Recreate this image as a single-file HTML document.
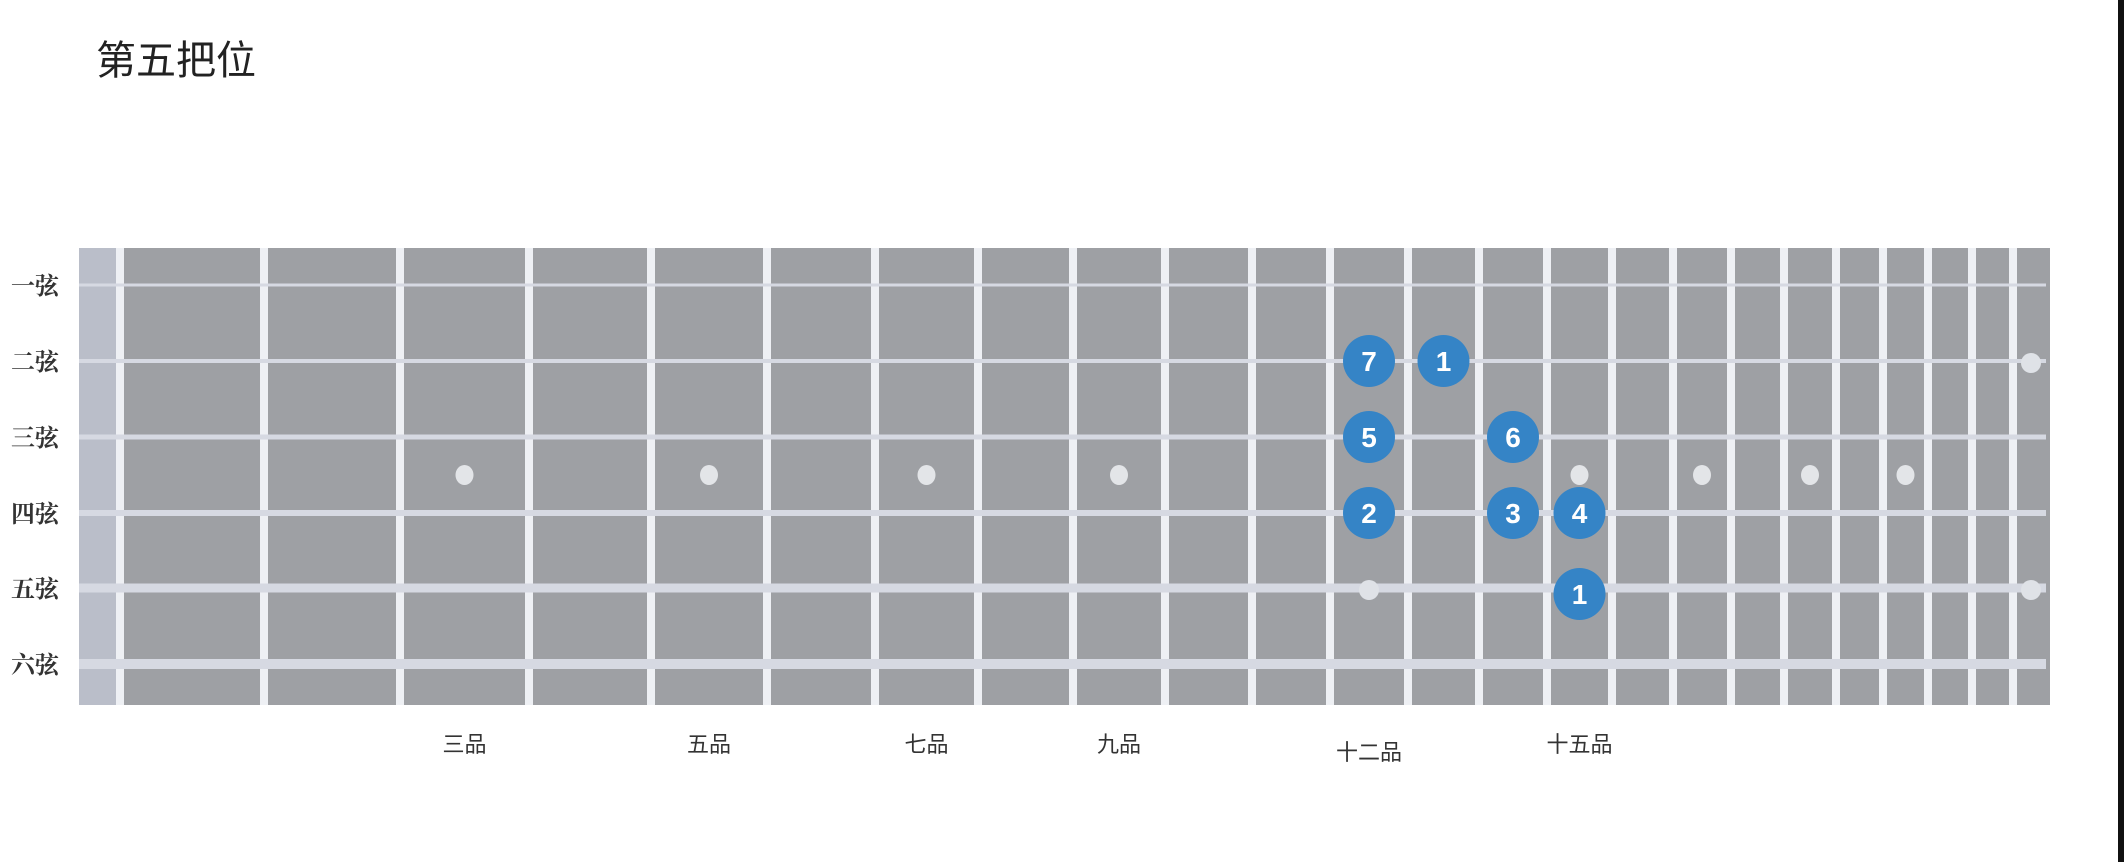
<!DOCTYPE html>
<html><head><meta charset="utf-8"><style>
html,body{margin:0;padding:0;background:#fff;}
body{width:2124px;height:862px;overflow:hidden;position:relative;font-family:"Liberation Sans","Noto Sans CJK SC",sans-serif;}
#title{position:absolute;left:96px;top:36px;font-size:40px;color:#222;line-height:50px;}
#edge{position:absolute;left:2118px;top:0;width:6px;height:862px;background:#111;}
</style></head><body>
<div id="title">第五把位</div>
<div id="edge"></div>
<svg id="svg" width="2124" height="862" style="position:absolute;left:0;top:0"></svg>
<script>
const fretLineX=[120,264,400,529,651,767,875,978,1073,1165,1252,1330,1408,1479,1547,1612,1673,1731,1784,1836,1883,1928,1972,2013,2050];
const stringLabels=["一弦","二弦","三弦","四弦","五弦","六弦"];
const stringY=[285,361,437,513,588,664];
const stringWidths=[3,4,5,6,9,10];
const inlayFrets=[3,5,7,9,15,17,19,21];
const fretLabels=["三品","五品","七品","九品","十二品","十五品"];
const fretLabelFrets=[3,5,7,9,12,15];
const noteStrings=[2,2,3,3,4,4,4,5];
const noteFrets=[12,13,12,14,12,14,15,15];
const noteLabels=["7","1","5","6","2","3","4","1"];
const NS="http://www.w3.org/2000/svg";
const svgEl=document.getElementById('svg');
function mk(t,a){const e=document.createElementNS(NS,t);for(const k in a)e.setAttribute(k,a[k]);svgEl.appendChild(e);return e;}
function fretX(f){return (fretLineX[f-1]+fretLineX[f])/2;}
function strY(s){return stringY[s-1];}
const bTop=248,bBot=705,bLeft=79,bRight=2050;
let e=mk('rect',{x:bLeft,y:bTop,width:bRight-bLeft,height:bBot-bTop,fill:'#9ea0a4'});


e=mk('rect',{x:bLeft,y:bTop,width:38,height:bBot-bTop,fill:'#babec9'});


for(let i=0;i<fretLineX.length-1;i++){
  e=mk('rect',{x:fretLineX[i]-4,y:bTop,width:8,height:bBot-bTop,fill:'#eef0f4'});
  
  
}
inlayFrets.forEach(f=>{
  e=mk('ellipse',{cx:fretX(f),cy:(strY(3)+strY(4))/2,rx:9,ry:10,fill:'#e3e5e8'});
  
  
});
stringY.forEach((y,i)=>{
  e=mk('rect',{x:bLeft,y:y-stringWidths[i]/2,width:bRight-bLeft-4,height:stringWidths[i],fill:'#d6d9e2'});
  
  
  e=mk('text',{x:11,y:y+9,'font-size':24,fill:'#333','font-family':'"Liberation Serif","Noto Serif CJK SC",serif','font-weight':'bold'});
  e.textContent=stringLabels[i];
  
  
});
[[12,5],[24,2],[24,5]].forEach(([f,s])=>{
  const cx=f===24?2031:fretX(f);
  e=mk('ellipse',{cx:cx,cy:strY(s)+2,rx:10,ry:10,fill:'#dfe2e7'});
  
  
});
fretLabels.forEach((t,i)=>{
  e=mk('text',{x:fretX(fretLabelFrets[i]),y:fretLabelFrets[i]===12?760:752,'font-size':22,fill:'#333','text-anchor':'middle'});
  e.textContent=t;
  
  
});
noteLabels.forEach((t,i)=>{
  const cx=fretX(noteFrets[i]),cy=strY(noteStrings[i])+(noteStrings[i]===5?6:0);
  e=mk('circle',{cx:cx,cy:cy,r:26,fill:'#3584c6'});
  
  
  e=mk('text',{x:cx,y:cy+10,'font-size':28,'font-weight':'bold',fill:'#fff','text-anchor':'middle'});
  e.textContent=t;
  
  
});
</script>
</body></html>
